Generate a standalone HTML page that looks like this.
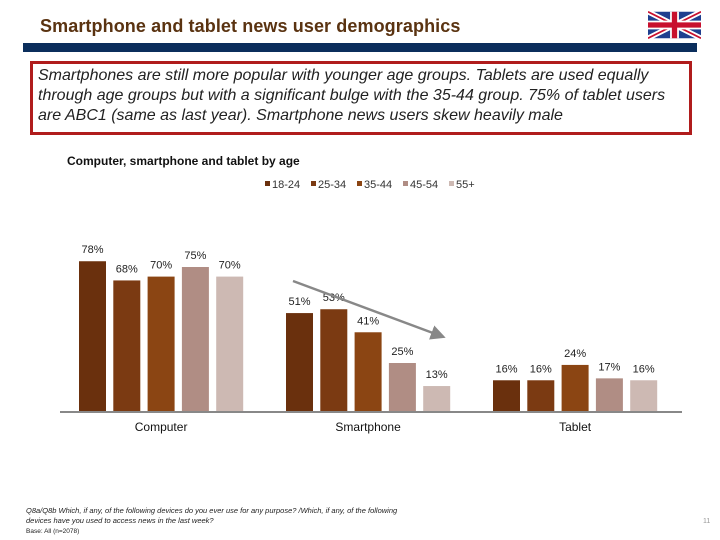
<!DOCTYPE html>
<html><head><meta charset="utf-8"><style>
body{margin:0;width:720px;height:540px;background:#fff;font-family:"Liberation Sans",sans-serif;position:relative;overflow:hidden}
.a{position:absolute}
</style></head><body>
<div class="a" style="left:40px;top:16px;font-size:18px;font-weight:bold;color:#5a3311;letter-spacing:0.1px">Smartphone and tablet news user demographics</div>
<svg class="a" style="left:648px;top:10px" width="53" height="30" viewBox="0 0 60 30">
<rect width="60" height="30" fill="#1f3f8f"/><path d="M0,0L60,30M60,0L0,30" stroke="#fff" stroke-width="6"/><path d="M0,0L60,30M60,0L0,30" stroke="#c8102e" stroke-width="2"/><path d="M30,0V30M0,15H60" stroke="#fff" stroke-width="10"/><path d="M30,0V30M0,15H60" stroke="#c8102e" stroke-width="6"/></svg>
<div class="a" style="left:23px;top:43px;width:674px;height:9px;background:#0b2e5c"></div>
<div class="a" style="left:30px;top:61px;width:647px;height:66px;border:3px solid #b01c1c;padding:2px 4px 0 5px;box-sizing:content-box;font-size:16px;font-style:italic;color:#222;line-height:20px;letter-spacing:0px;white-space:nowrap">Smartphones are still more popular with younger age groups. Tablets are used equally<br>through age groups but with a significant bulge with the 35-44 group. 75% of tablet users<br>are ABC1 (same as last year). Smartphone news users skew heavily male</div>
<div class="a" style="left:67px;top:154px;font-size:12px;font-weight:bold;color:#111">Computer, smartphone and tablet by age</div>
<svg class="a" id="chart" style="left:0;top:0" width="720" height="540"></svg>
<div class="a" style="left:26px;top:506px;font-size:7.5px;font-style:italic;color:#222;line-height:10px">Q8a/Q8b Which, if any, of the following devices do you ever use for any purpose? /Which, if any, of the following<br>devices have you used to access news in the last week?<br><span style="font-style:normal;font-size:6.5px">Base: All (n=2078)</span></div>
<div class="a" style="left:703px;top:518px;font-size:7px;color:#999">11</div>
<script>
const categories=["Computer","Smartphone","Tablet"];
const ageGroups=["18-24","25-34","35-44","45-54","55+"];
const s1824=[78,51,16];
const s2534=[68,53,16];
const s3544=[70,41,24];
const s4554=[75,25,17];
const s55=[70,13,16];
const series=[s1824,s2534,s3544,s4554,s55];
const colors=["#6a300d","#7b3a12","#8b4513","#b08d84","#cdb9b3"];
const NS="http://www.w3.org/2000/svg";
const svg=document.getElementById("chart");
const base=411, scale=1.92, bw=27, step=34.3;
const y=v=>base-v*scale;
const gx=g=>79+g*207;
const bx=(g,s)=>gx(g)+s*step;
function mk(t,a){const e=document.createElementNS(NS,t);for(const k in a)e.setAttribute(k,a[k]);svg.appendChild(e);return e;}
series.forEach((arr,s)=>arr.forEach((v,g)=>{
 const r=mk("rect",{x:bx(g,s),y:y(v),width:bw,height:v*scale,fill:colors[s]});
 
 
 const t=mk("text",{x:bx(g,s)+bw/2,y:y(v)-8,"text-anchor":"middle","font-size":"11","fill":"#222","font-family":"Liberation Sans"});
 t.textContent=v+"%";
 
 
}));
const ax=mk("line",{x1:60,x2:682,y1:base+1,y2:base+1,stroke:"#888","stroke-width":2});


categories.forEach((c,g)=>{
 const t=mk("text",{x:gx(g)+bw/2+2*step,y:431,"text-anchor":"middle","font-size":"12","fill":"#111","font-family":"Liberation Sans"});
 t.textContent=c;
 
 
});
ageGroups.forEach((a,i)=>{
 const lx=265+i*46;
 const r=mk("rect",{x:lx,y:181,width:5,height:5,fill:colors[i]});
 
 
 const t=mk("text",{x:lx+7,y:188,"font-size":"11","fill":"#333","font-family":"Liberation Sans"});
 t.textContent=a;
 
 
});
const d=mk("defs",{});
d.innerHTML='<marker id="ah" markerWidth="6" markerHeight="6" refX="4" refY="3" orient="auto"><path d="M0,0L6,3L0,6z" fill="#888"/></marker>';
const arr=mk("line",{x1:293,y1:281,x2:441,y2:336,stroke:"#888","stroke-width":2.5,"marker-end":"url(#ah)"});


</script>
</body></html>
